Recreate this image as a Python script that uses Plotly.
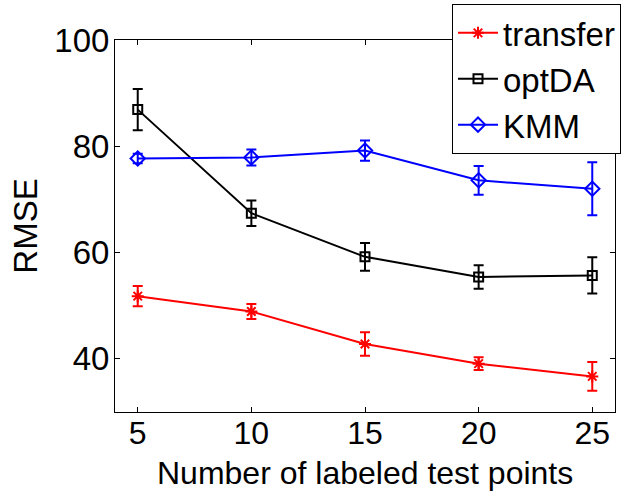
import plotly.graph_objects as go

# Number of labeled test points
x_points = [5, 10, 15, 20, 25]

# RMSE means and error-bar half widths per method
transfer_rmse = [51.8, 48.9, 42.8, 39.1, 36.7]
transfer_err = [1.9, 1.4, 2.2, 1.2, 2.7]

optda_rmse = [86.9, 67.4, 59.2, 55.4, 55.7]
optda_err = [3.9, 2.4, 2.6, 2.2, 3.4]

kmm_rmse = [77.7, 77.9, 79.2, 73.6, 72.0]
kmm_err = [0.9, 1.5, 1.9, 2.7, 5.0]

series = [
    ("transfer", transfer_rmse, transfer_err, "#ff0000", "asterisk-open", 10),
    ("optDA", optda_rmse, optda_err, "#000000", "square-open", 9),
    ("KMM", kmm_rmse, kmm_err, "#0000ff", "diamond-open", 11),
]

FONT = "Liberation Sans, Arial, Helvetica, sans-serif"
FS = 33

fig = go.Figure()
for name, vals, errs, color, symbol, msize in series:
    fig.add_trace(go.Scatter(
        x=x_points, y=vals, name=name, mode="lines+markers",
        line=dict(color=color, width=2),
        marker=dict(symbol=symbol, size=msize, color=color,
                    line=dict(color=color, width=2)),
        error_y=dict(type="data", array=errs, visible=True,
                     color=color, thickness=2, width=5),
    ))

fig.update_layout(
    width=622, height=492,
    margin=dict(l=115, r=7, t=40, b=80, autoexpand=False),
    paper_bgcolor="white", plot_bgcolor="white",
    font=dict(family=FONT, size=FS, color="black"),
    showlegend=True,
    legend=dict(
        x=1.012, xanchor="right", y=1.097, yanchor="top",
        bgcolor="white", bordercolor="black", borderwidth=1,
        font=dict(family=FONT, size=FS, color="black"),
        tracegroupgap=0, itemwidth=40,
    ),
    xaxis=dict(
        range=[4, 26], tickvals=x_points,
        ticks="inside", ticklen=5, tickcolor="black",
        showline=True, linecolor="black", linewidth=1, mirror="ticks",
        showgrid=False, zeroline=False,
        tickfont=dict(size=32), ticklabelstandoff=-7,
    ),
    yaxis=dict(
        range=[30, 100], tickvals=[40, 60, 80, 100],
        ticks="inside", ticklen=5, tickcolor="black",
        showline=True, linecolor="black", linewidth=1, mirror="ticks",
        showgrid=False, zeroline=False,
        tickfont=dict(size=FS), ticklabelstandoff=-2,
        title=dict(text="RMSE", font=dict(size=FS), standoff=6),
    ),
    annotations=[dict(
        text="Number of labeled test points",
        xref="paper", yref="paper", x=0.5, y=-0.164,
        xanchor="center", yanchor="middle", showarrow=False,
        font=dict(family=FONT, size=32, color="black"),
    )],
)

fig.write_html("out.html")
